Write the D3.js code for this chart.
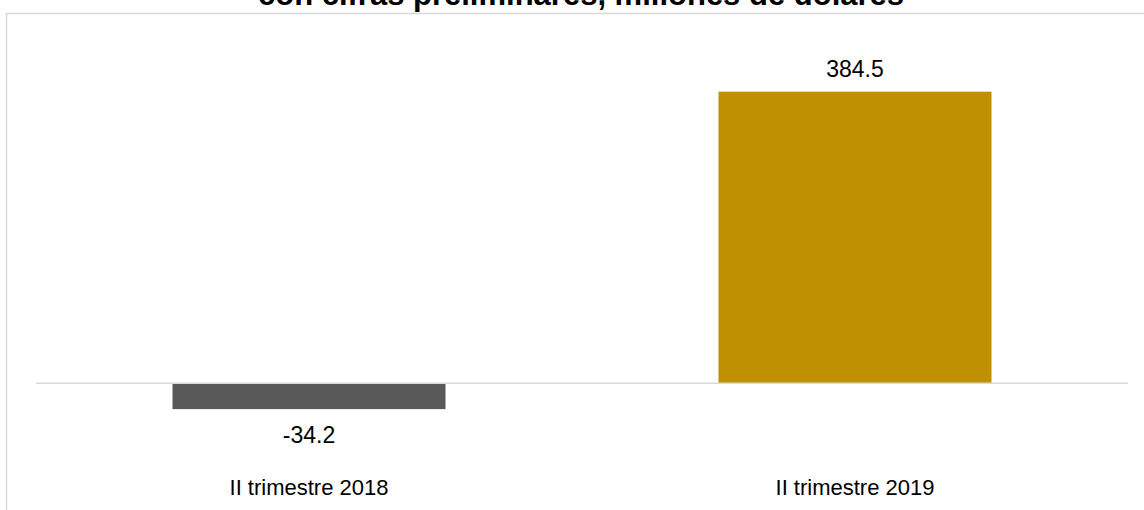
<!DOCTYPE html>
<html>
<head>
<meta charset="utf-8">
<script src="https://cdn.jsdelivr.net/npm/d3@7"></script>
<style>
  body { margin: 0; background: #fff; }
  text { font-family: "Liberation Sans", Arial, sans-serif; }
</style>
</head>
<body>
<script>
var categories = ["II trimestre 2018", "II trimestre 2019"];
var values = [-34.2, 384.5];
var valueLabels = ["-34.2", "384.5"];
var colors = ["#595959", "#bf9000"];
var title = "con cifras preliminares, millones de dólares";

var width = 1144, height = 510;

var svg = d3.select("body")
    .append("svg")
        .attr("width", width)
        .attr("height", height);

// chart area frame (only left and top edges fall inside the picture)
svg.append("rect")
    .attr("x", 6.5)
    .attr("y", 13.5)
    .attr("width", 1160)
    .attr("height", 520)
    .attr("fill", "none")
    .attr("stroke", "#d9d9d9")
    .attr("stroke-width", 1.5);

// title, mostly cut off at the top like the original
svg.append("text")
    .attr("x", 581)
    .attr("y", 4.5)
    .attr("text-anchor", "middle")
    .style("font-size", "31px")
    .style("font-weight", "bold")
    .attr("fill", "#000")
    .text(title);

var xscale = d3.scaleBand()
    .domain(categories)
    .range([36, 1128])
    .paddingInner(0.5)
    .paddingOuter(0.25);

var yscale = d3.scaleLinear()
    .domain([-100, 450])
    .range([459, 42]);

var data = categories.map(function(c, i) {
    return {cat: c, val: values[i], label: valueLabels[i], color: colors[i]};
});

svg.selectAll("rect.bar")
    .data(data)
    .enter()
    .append("rect")
        .attr("class", "bar")
        .attr("x", function(d) { return xscale(d.cat); })
        .attr("y", function(d) { return yscale(Math.max(0, d.val)); })
        .attr("width", xscale.bandwidth())
        .attr("height", function(d) { return Math.abs(yscale(d.val) - yscale(0)); })
        .attr("fill", function(d) { return d.color; });

// zero line
svg.append("line")
    .attr("x1", 36)
    .attr("x2", 1128)
    .attr("y1", yscale(0))
    .attr("y2", yscale(0))
    .attr("stroke", "#d9d9d9")
    .attr("stroke-width", 1.5);

// data labels
svg.selectAll("text.val")
    .data(data)
    .enter()
    .append("text")
        .attr("class", "val")
        .attr("x", function(d) { return xscale(d.cat) + xscale.bandwidth() / 2; })
        .attr("y", function(d) { return d.val >= 0 ? yscale(d.val) - 15 : yscale(d.val) + 34; })
        .attr("text-anchor", "middle")
        .style("font-size", "23px")
        .attr("fill", "#000")
        .text(function(d) { return d.label; });

// category labels
svg.selectAll("text.cat")
    .data(categories)
    .enter()
    .append("text")
        .attr("class", "cat")
        .attr("x", function(d) { return xscale(d) + xscale.bandwidth() / 2; })
        .attr("y", 495)
        .attr("text-anchor", "middle")
        .style("font-size", "22px")
        .attr("fill", "#000")
        .text(function(d) { return d; });
</script>
</body>
</html>
